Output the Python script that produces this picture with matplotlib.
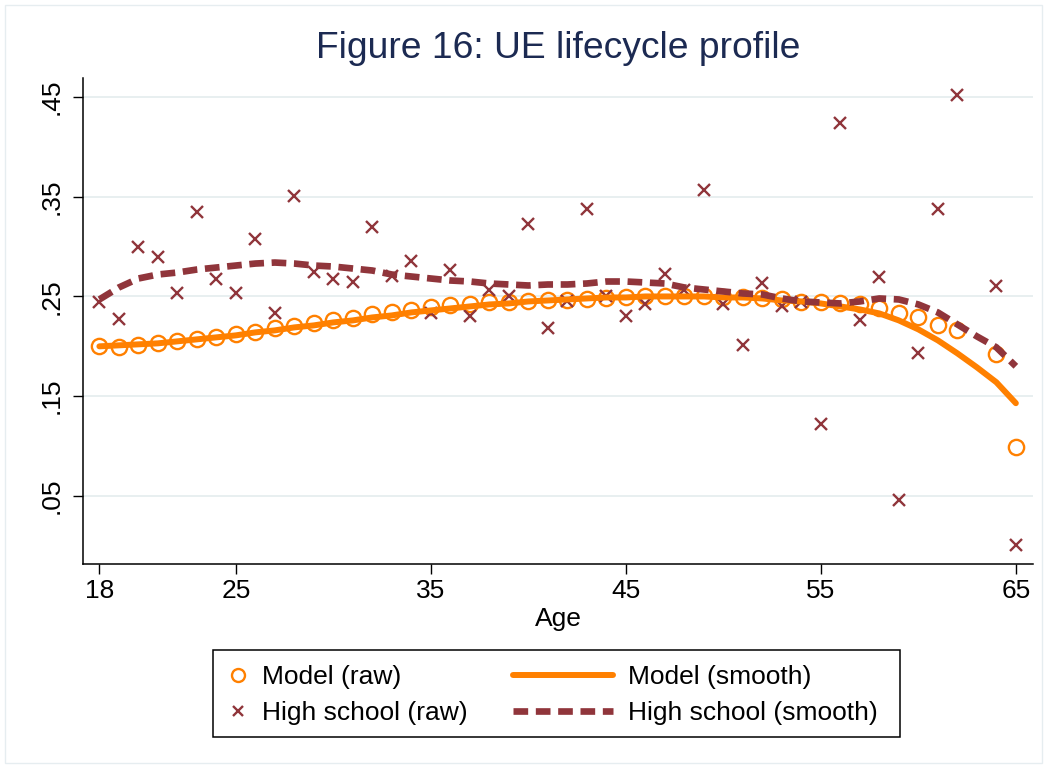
# Perfil de ciclo de vida de la tasa UE: modelo contra datos (bachillerato)
import numpy as np
import matplotlib.pyplot as plt
from matplotlib.patches import Rectangle

plt.rcParams['font.family'] = ['Liberation Sans', 'DejaVu Sans']

# Edades
edades = np.arange(18, 66)

# Modelo (raw)
modelo_raw = [0.200, 0.199, 0.201, 0.203, 0.205, 0.207, 0.209, 0.212, 0.214, 0.218,
              0.220, 0.223, 0.226, 0.228, 0.232, 0.234, 0.236, 0.239, 0.241, 0.242,
              0.244, 0.244, 0.245, 0.246, 0.246, 0.247, 0.248, 0.249, 0.250, 0.250,
              0.250, 0.250, 0.249, 0.249, 0.248, 0.247, 0.244, 0.244, 0.243, 0.242,
              0.238, 0.233, 0.229, 0.221, 0.216, np.nan, 0.192, 0.099]

# Bachillerato (raw)
bach_raw = [0.244, 0.227, 0.300, 0.290, 0.253, 0.335, 0.268, 0.253, 0.308, 0.233,
            0.351, 0.275, 0.268, 0.264, 0.320, 0.271, 0.286, 0.233, 0.277, 0.230,
            0.256, 0.250, 0.323, 0.218, 0.245, 0.338, 0.250, 0.230, 0.242, 0.273,
            0.256, 0.357, 0.242, 0.201, 0.263, 0.240, 0.244, 0.122, 0.424, 0.226,
            0.270, 0.046, 0.193, 0.338, 0.452, np.nan, 0.260, 0.001]

# Modelo (suavizado)
modelo_suave = [0.200, 0.201, 0.202, 0.203, 0.205, 0.207, 0.209, 0.211, 0.214, 0.216,
                0.219, 0.221, 0.224, 0.226, 0.229, 0.231, 0.234, 0.236, 0.238, 0.240,
                0.242, 0.243, 0.245, 0.246, 0.247, 0.248, 0.249, 0.249, 0.250, 0.250,
                0.250, 0.250, 0.249, 0.249, 0.248, 0.246, 0.245, 0.243, 0.240, 0.237,
                0.233, 0.226, 0.217, 0.206, 0.193, 0.179, 0.164, 0.143]

# Bachillerato (suavizado)
bach_suave = [0.247, 0.259, 0.268, 0.272, 0.274, 0.277, 0.279, 0.281, 0.283, 0.284,
              0.283, 0.281, 0.280, 0.278, 0.276, 0.272, 0.270, 0.268, 0.266, 0.265,
              0.263, 0.262, 0.261, 0.262, 0.262, 0.263, 0.265, 0.265, 0.264, 0.263,
              0.259, 0.257, 0.255, 0.253, 0.252, 0.248, 0.245, 0.244, 0.243, 0.245,
              0.248, 0.247, 0.242, 0.234, 0.222, 0.210, 0.199, 0.180]

xticks = [18, 25, 35, 45, 55, 65]
yticks = [0.05, 0.15, 0.25, 0.35, 0.45]
ytick_labels = ['.05', '.15', '.25', '.35', '.45']

naranja = '#ff8000'
granate = '#90353b'

W, H = 1047, 768
fig = plt.figure(figsize=(W / 100, H / 100), dpi=100)
ax = fig.add_axes([83 / W, 1 - 564 / H, (1033 - 83) / W, (564 - 78) / H])

# Puntos y curvas
ax.plot(edades, modelo_raw, linestyle='none', marker='o', ms=11, mfc='none',
        mec=naranja, mew=1.7, label='Model (raw)')
ax.plot(edades, bach_raw, linestyle='none', marker='x', ms=8, mec=granate,
        mew=1.7, label='High school (raw)')
ax.plot(edades, modelo_suave, color=naranja, lw=4.3, solid_capstyle='round',
        label='Model (smooth)')
ax.plot(edades, bach_suave, color=granate, lw=4.8, linestyle=(0, (2.2, 1.15)),
        dash_capstyle='butt', label='High school (smooth)')

ax.set_xlim(17.16, 65.88)
ax.set_ylim(-0.0182, 0.469)

ax.set_xticks(xticks)
ax.set_yticks(yticks)
ax.set_yticklabels(ytick_labels, rotation=90, va='center')

ax.spines['top'].set_visible(False)
ax.spines['right'].set_visible(False)
ax.spines['left'].set_linewidth(1.1)
ax.spines['bottom'].set_linewidth(1.1)
ax.tick_params(direction='out', length=7, width=1, labelsize=19)
ax.tick_params(axis='x', pad=4)
ax.tick_params(axis='y', pad=7)

ax.yaxis.grid(True, color='#e4ecee', lw=1.2)
ax.set_axisbelow(True)

ax.set_xlabel('Age', fontsize=19, labelpad=3)

# Titulo
fig.text(558 / W, 1 - 49 / H, 'Figure 16: UE lifecycle profile', ha='center',
         va='center', fontsize=26.8, color='#1c2a52')

# Leyenda en dos columnas dentro de un recuadro
h = ax.get_lines()
caja = Rectangle((213 / W, 1 - 737 / H), (900 - 213) / W, (737 - 650) / H,
                 transform=fig.transFigure, fill=False, edgecolor='black', lw=1.1)
fig.patches.append(caja)

fig.legend(handles=[h[0], h[1]], loc='upper left',
           bbox_to_anchor=(225 / W, 1 - 665 / H), frameon=False,
           fontsize=19, handlelength=0.95, handletextpad=0.45, markerscale=0.85,
           borderpad=0, borderaxespad=0, labelspacing=0.45)
fig.legend(handles=[h[2], h[3]], loc='upper left',
           bbox_to_anchor=(513 / W, 1 - 665 / H), frameon=False,
           fontsize=19, handlelength=3.8, handletextpad=0.55,
           borderpad=0, borderaxespad=0, labelspacing=0.45)

# Marco exterior claro
marco = Rectangle((5 / W, 5 / H), (W - 10) / W, (H - 10) / H,
                  transform=fig.transFigure, fill=False, edgecolor='#e6edf0', lw=1)
fig.patches.append(marco)

fig.savefig('out.png', dpi=100)
